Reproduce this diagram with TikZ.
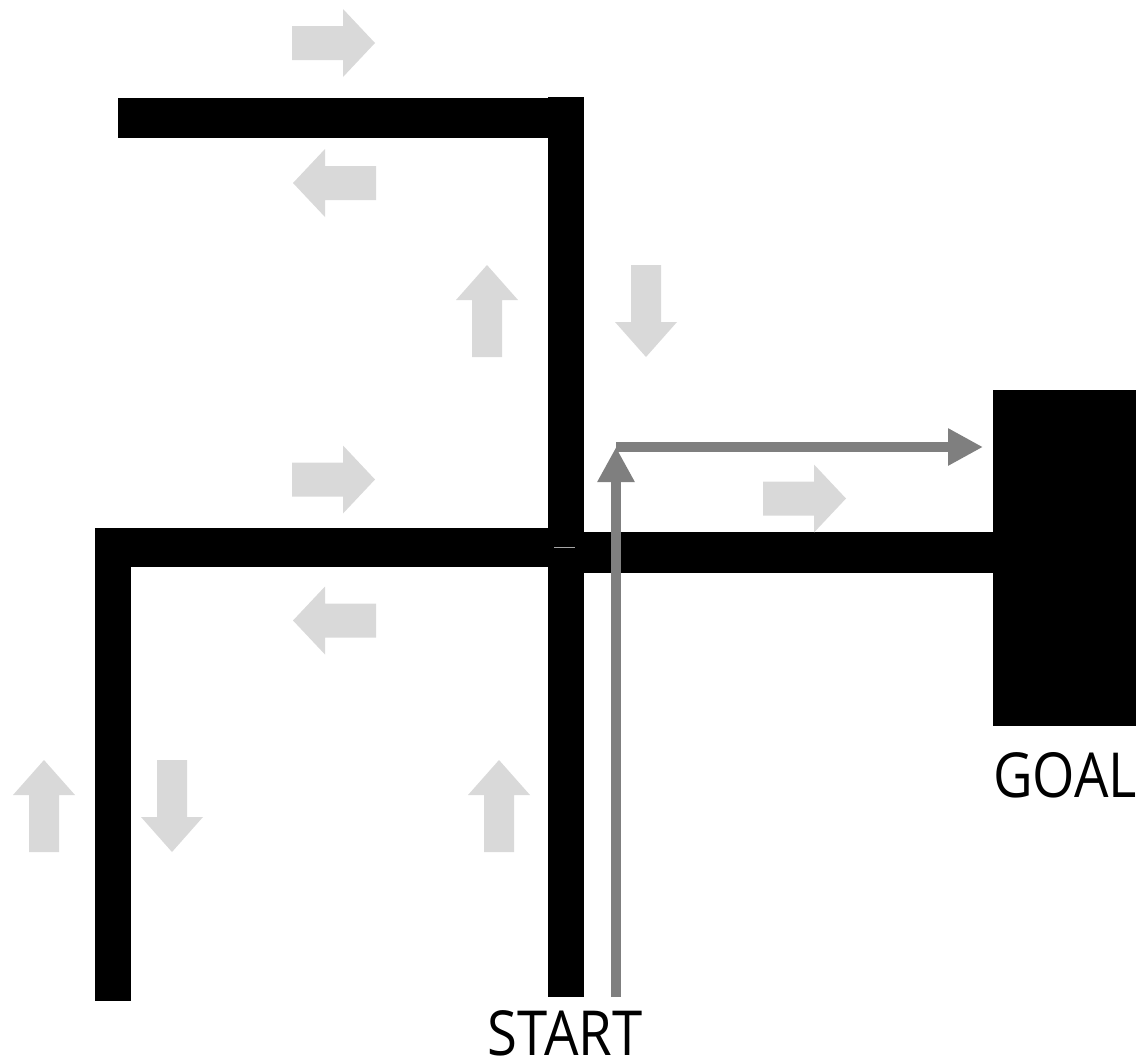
\documentclass[tikz,border=0pt]{standalone}
\usepackage{fontspec}
\newfontfamily\labelfont{Open Sans}
\usepackage{tikz}
\usetikzlibrary{arrows.meta,positioning}
\definecolor{flowgrey}{RGB}{217,217,217}
\definecolor{pathgrey}{RGB}{127,127,127}

\begin{document}
\begin{tikzpicture}[
    x=0.02cm, y=-0.02cm,
    wall/.style={fill=black},
    route/.style={draw=pathgrey, line width=0.2cm, -{Triangle[length=0.7cm, width=0.7cm]}},
    tag/.style={font=\labelfont\fontsize{31}{37}\selectfont, inner sep=0pt, yscale=1.14},
    hflow/.pic={\fill[flowgrey] (-41,-17) -- (10,-17) -- (10,-34) -- (42,0) -- (10,34) -- (10,17) -- (-41,17) -- cycle;},
    vflow/.pic={\fill[flowgrey] (-15,46) -- (-15,-11) -- (-31,-11) -- (0,-46) -- (31,-11) -- (15,-11) -- (15,46) -- cycle;},
]
    \useasboundingbox (0,0) rectangle (1136,1062);
    % maze walls
    \fill[wall] (118,98) rectangle (584,138);
    \fill[wall] (548,97) rectangle (584,997);
    \fill[wall] (95,528) rectangle (548,567);
    \fill[wall] (95,528) rectangle (131,1001);
    \fill[wall] (584,532) rectangle (993,573);
    \fill[wall] (993,390) rectangle (1136,726);
    \draw[gray!70, line width=0.5pt] (554,547) -- (575,547);
    % flow hints
    \foreach \cx/\cy in {333/43, 333/479.5, 804/498.5} { \pic at (\cx,\cy) {hflow}; }
    \foreach \cx/\cy in {335/183, 335/620.5} { \pic[xscale=-1] at (\cx,\cy) {hflow}; }
    \foreach \cx/\cy in {487/311, 44/806, 499/806} { \pic at (\cx,\cy) {vflow}; }
    \foreach \cx/\cy in {646/311, 172/806} { \pic[yscale=-1] at (\cx,\cy) {vflow}; }
    % route
    \coordinate (entry) at (616,997);
    \coordinate (turn) at (616,447);
    \coordinate (goalside) at (983,447);
    \draw[route] (entry) -- (turn);
    \draw[route] (turn) -- (goalside);
    \node[tag] (starttext) at (565,1033) {START};
    \node[tag] (goaltext) at (1065,775) {GOAL};
\end{tikzpicture}
\end{document}
